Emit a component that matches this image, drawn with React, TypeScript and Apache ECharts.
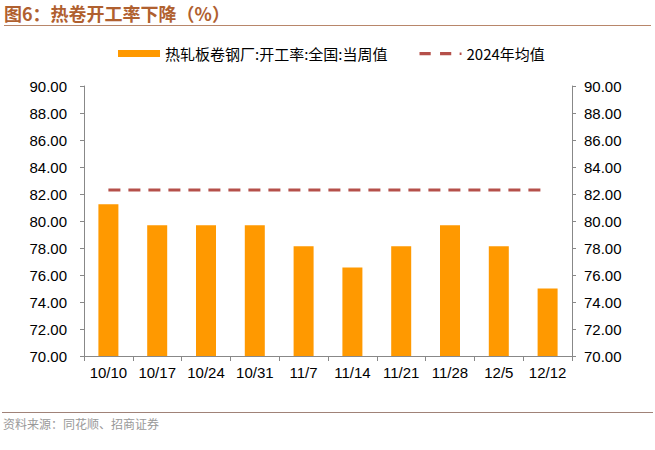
import React, { useEffect, useRef } from "react";
import * as echarts from "echarts";

const categories = ["10/10", "10/17", "10/24", "10/31", "11/7", "11/14", "11/21", "11/28", "12/5", "12/12"];
const weeklyRate = [81.25, 79.69, 79.69, 79.69, 78.13, 76.56, 78.13, 79.69, 78.13, 75.0];
const avg2024 = [82.3, 82.3, 82.3, 82.3, 82.3, 82.3, 82.3, 82.3, 82.3, 82.3];
const barName = "热轧板卷钢厂:开工率:全国:当周值";
const lineName = "2024年均值";
const titleText = "图6：热卷开工率下降（%）";
const sourceText = "资料来源：同花顺、招商证券";

export default function App() {
  const ref = useRef<HTMLDivElement>(null);
  useEffect(() => {
    const chart = echarts.init(ref.current!, null, { renderer: "svg" });
    const labelBase = {
      color: "#000",
      fontSize: 15,
      fontFamily: "Liberation Sans, Arial, sans-serif",
      formatter: (v: number) => v.toFixed(2),
    };
    const yCommon = {
      type: "value",
      min: 70,
      max: 90,
      interval: 2,
      axisLine: { show: true, lineStyle: { color: "#888", width: 1 } },
      axisTick: { show: true, length: 4, lineStyle: { color: "#888" } },
      splitLine: { show: false },
    };
    chart.setOption({
      animation: false,
      backgroundColor: "#fff",
      graphic: [
        {
          type: "text",
          x: 4,
          y: 4,
          style: {
            text: titleText,
            fill: "#b0602f",
            fontSize: 18,
            lineHeight: 18,
            verticalAlign: "top",
            fontWeight: "bold",
            fontFamily: "Noto Sans CJK SC, sans-serif",
          },
        },
        {
          type: "line",
          shape: { x1: 4, y1: 25.5, x2: 651, y2: 25.5 },
          style: { stroke: "#b8866a", lineWidth: 1 },
        },
        {
          type: "line",
          shape: { x1: 2, y1: 412.5, x2: 653, y2: 412.5 },
          style: { stroke: "#a08278", lineWidth: 1 },
        },
        {
          type: "text",
          x: 3,
          y: 417,
          style: {
            text: sourceText,
            fill: "#999",
            fontSize: 12,
            fontFamily: "Noto Sans CJK SC, sans-serif",
          },
        },
      ],
      legend: {
        top: 46,
        left: 118,
        padding: 0,
        itemGap: 32,
        itemWidth: 42,
        itemHeight: 7,
        textStyle: { color: "#000", fontSize: 15, fontFamily: "Noto Sans CJK SC, sans-serif" },
        data: [
          { name: barName, icon: "rect" },
          {
            name: lineName,
            icon: "path://M0,0M45,7M0,2h12v3.5h-12zM22,2h12v3.5h-12zM43,2.5h2v2.5h-2z",
            itemStyle: { color: "#b5504a" },
          },
        ],
      },
      grid: { left: 84, right: 83, top: 86, bottom: 94 },
      xAxis: {
        type: "category",
        data: categories,
        axisLine: { lineStyle: { color: "#888" } },
        axisTick: { show: true, length: 5, alignWithLabel: false, lineStyle: { color: "#888" } },
        axisLabel: { color: "#000", fontSize: 15, margin: 9, fontFamily: "Liberation Sans, Arial, sans-serif" },
      },
      yAxis: [
        { ...yCommon, position: "left", axisLabel: { ...labelBase, margin: 17 } },
        { ...yCommon, position: "right", axisLabel: { ...labelBase, margin: 12 } },
      ],
      series: [
        {
          name: barName,
          type: "bar",
          data: weeklyRate,
          barWidth: 20,
          itemStyle: { color: "#ff9900" },
        },
        {
          name: lineName,
          type: "line",
          data: avg2024,
          symbol: "none",
          lineStyle: { color: "#b5504a", width: 3, type: [12, 8] },
          itemStyle: { color: "#b5504a" },
        },
      ],
    });
    return () => chart.dispose();
  }, []);
  return <div ref={ref} style={{ position: "absolute", left: 0, top: 0, width: 655, height: 450 }} />;
}
